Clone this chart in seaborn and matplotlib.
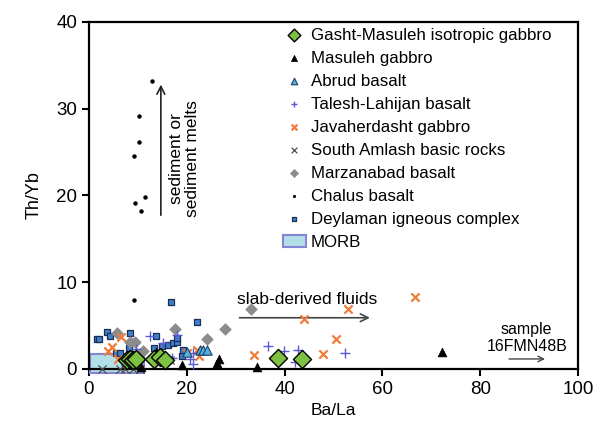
import matplotlib
matplotlib.use("Agg")
import matplotlib.pyplot as plt
import seaborn as sns
import pandas as pd
from matplotlib.patches import Rectangle, Patch

sns.set_style("ticks")
plt.rcParams['font.family'] = ['Liberation Sans', 'DejaVu Sans']
plt.rcParams['text.color'] = 'black'
plt.rcParams['axes.labelcolor'] = 'black'
plt.rcParams['xtick.color'] = 'black'
plt.rcParams['ytick.color'] = 'black'

# ---- data (Ba/La, Th/Yb) ----
gasht_x = [7.7, 8.4, 9.1, 9.6, 13.3, 14.5, 15.6, 38.7, 43.6]
gasht_y = [1.0, 1.2, 1.0, 1.1, 1.2, 1.4, 1.0, 1.3, 1.2]

masuleh_x = [10.6, 13.8, 19.1, 26.1, 26.6, 34.4, 72.2]
masuleh_y = [0.2, 2.0, 0.5, 0.7, 1.2, 0.2, 2.0]

abrud_x = [20.1, 22.7, 23.4, 24.1]
abrud_y = [1.9, 2.2, 2.2, 2.2]

talesh_x = [9.6, 12.5, 15.2, 16.9, 17.9, 20.7, 21.2, 21.3, 36.6, 39.9, 42.1, 42.7, 52.4]
talesh_y = [2.3, 3.8, 3.0, 1.3, 3.9, 1.2, 0.6, 1.8, 2.7, 2.1, 0.8, 2.2, 1.8]

javaher_x = [3.8, 4.8, 5.9, 6.5, 20.0, 22.0, 22.4, 33.7, 44.0, 47.9, 50.6, 53.0, 66.7]
javaher_y = [2.1, 2.5, 1.1, 3.7, 1.8, 2.2, 1.5, 1.6, 5.8, 1.7, 3.5, 6.9, 8.3]

amlash_x = [2.6, 6.4, 7.4, 9.1, 10.5, 16.6]
amlash_y = [0.0, 0.0, 0.0, 0.0, 0.0, 1.0]

marzan_x = [5.7, 8.4, 9.5, 11.1, 17.6, 24.1, 27.9, 33.1]
marzan_y = [4.2, 3.1, 3.1, 2.1, 4.6, 3.4, 4.6, 6.9]

chalus_x = [12.9, 10.3, 10.2, 9.3, 11.4, 9.5, 10.6, 9.3]
chalus_y = [33.2, 29.2, 26.2, 24.6, 19.8, 19.1, 18.2, 8.0]

deyl_x = [1.7, 2.0, 3.6, 4.4, 5.5, 6.4, 8.2, 8.4, 8.9, 13.2, 13.7, 14.9, 16.2,
          16.7, 17.2, 17.9, 18.1, 19.0, 19.2, 22.0]
deyl_y = [3.5, 3.5, 4.3, 3.8, 1.8, 1.8, 2.4, 4.2, 1.7, 2.4, 3.8, 2.6, 2.8,
          7.7, 3.0, 3.1, 3.6, 1.5, 2.2, 5.4]

morb_x = [0.2, 11.3]
morb_y = [-0.5, 1.7]

x_ticks = [0, 20, 40, 60, 80, 100]
y_ticks = [0, 10, 20, 30, 40]

groups = [
    ("Gasht-Masuleh isotropic gabbro", gasht_x, gasht_y, dict(marker="D", s=85, color="#7cc142", edgecolor="black", linewidth=1.0), 7),
    ("Masuleh gabbro", masuleh_x, masuleh_y, dict(marker="^", s=40, color="black", edgecolor="black", linewidth=0.5), 5),
    ("Abrud basalt", abrud_x, abrud_y, dict(marker="^", s=45, color="#4fb3dc", edgecolor="#1f3f6e", linewidth=0.8), 5),
    ("Talesh-Lahijan basalt", talesh_x, talesh_y, dict(marker="+", s=50, color="#5a5ad2", linewidth=1.0), 5),
    ("Javaherdasht gabbro", javaher_x, javaher_y, dict(marker="x", s=35, color="#f07c3a", linewidth=1.6), 5),
    ("South Amlash basic rocks", amlash_x, amlash_y, dict(marker="x", s=35, color="#505050", linewidth=0.9), 5),
    ("Marzanabad basalt", marzan_x, marzan_y, dict(marker="D", s=35, color="#8c8c8c", edgecolor="#8c8c8c", linewidth=0.5), 4),
    ("Chalus basalt", chalus_x, chalus_y, dict(marker="o", s=8, color="black", edgecolor="black", linewidth=0.3), 3),
    ("Deylaman igneous complex", deyl_x, deyl_y, dict(marker="s", s=25, color="#3f7fc8", edgecolor="#1a2f55", linewidth=0.9), 3),
]

fig = plt.figure(figsize=(6.01, 4.30), dpi=100)
ax = fig.add_axes([0.148, 0.142, 0.814, 0.807])

ax.add_patch(Rectangle((morb_x[0], morb_y[0]), morb_x[1] - morb_x[0], morb_y[1] - morb_y[0],
                       facecolor="#b2e0e8", edgecolor="#8585d6", linewidth=1.5,
                       zorder=1, clip_on=False))

order = [8, 7, 6, 5, 4, 3, 2, 1, 0]
for i in order:
    name, xs, ys, kw, z = groups[i]
    df = pd.DataFrame({"Ba/La": xs, "Th/Yb": ys})
    sns.scatterplot(data=df, x="Ba/La", y="Th/Yb", ax=ax, zorder=z, legend=False,
                    clip_on=False, **kw)

handles = []
for name, xs, ys, kw, z in groups:
    h = ax.scatter([], [], label=name, **kw)
    handles.append(h)
handles.append(Patch(facecolor="#b2e0e8", edgecolor="#8585d6", linewidth=1.5, label="MORB"))
leg = ax.legend(handles=handles, loc="upper left", bbox_to_anchor=(0.375, 1.012),
                frameon=False, fontsize=12.2, markerscale=0.7, labelspacing=0.47,
                handlelength=1.4, handletextpad=0.28, borderaxespad=0.2,
                labelcolor="black")

ax.set_xlim(0, 100)
ax.set_ylim(0, 40)
ax.set_xticks(x_ticks)
ax.set_yticks(y_ticks)
ax.tick_params(labelsize=13.5, width=1.5, length=5, direction="out", colors="black")
for sp in ax.spines.values():
    sp.set_visible(True)
    sp.set_linewidth(1.6)
    sp.set_color("black")
ax.set_xlabel("Ba/La", fontsize=12.5, labelpad=4, color="black")
ax.set_ylabel("Th/Yb", fontsize=13, labelpad=10, color="black")

# arrows and annotations
ax.annotate("", xy=(14.7, 33.1), xytext=(14.7, 17.4),
            arrowprops=dict(arrowstyle="->", color="#222222", lw=1.2, mutation_scale=14))
ax.text(19.6, 24.2, "sediment or\nsediment melts", rotation=90, ha="center", va="center",
        fontsize=12.5, linespacing=1.1, color="black")
ax.annotate("", xy=(58.0, 5.9), xytext=(30.2, 5.9),
            arrowprops=dict(arrowstyle="->", color="#444444", lw=1.2, mutation_scale=14))
ax.text(30.2, 8.0, "slab-derived fluids", ha="left", va="center", fontsize=12.5, color="black")
ax.annotate("", xy=(93.8, 1.15), xytext=(85.3, 1.15),
            arrowprops=dict(arrowstyle="->", color="#444444", lw=1.0, mutation_scale=10))
ax.text(89.5, 3.6, "sample\n16FMN48B", ha="center", va="center", fontsize=11.5,
        linespacing=1.15, color="black")

fig.savefig("out.png", dpi=100)
